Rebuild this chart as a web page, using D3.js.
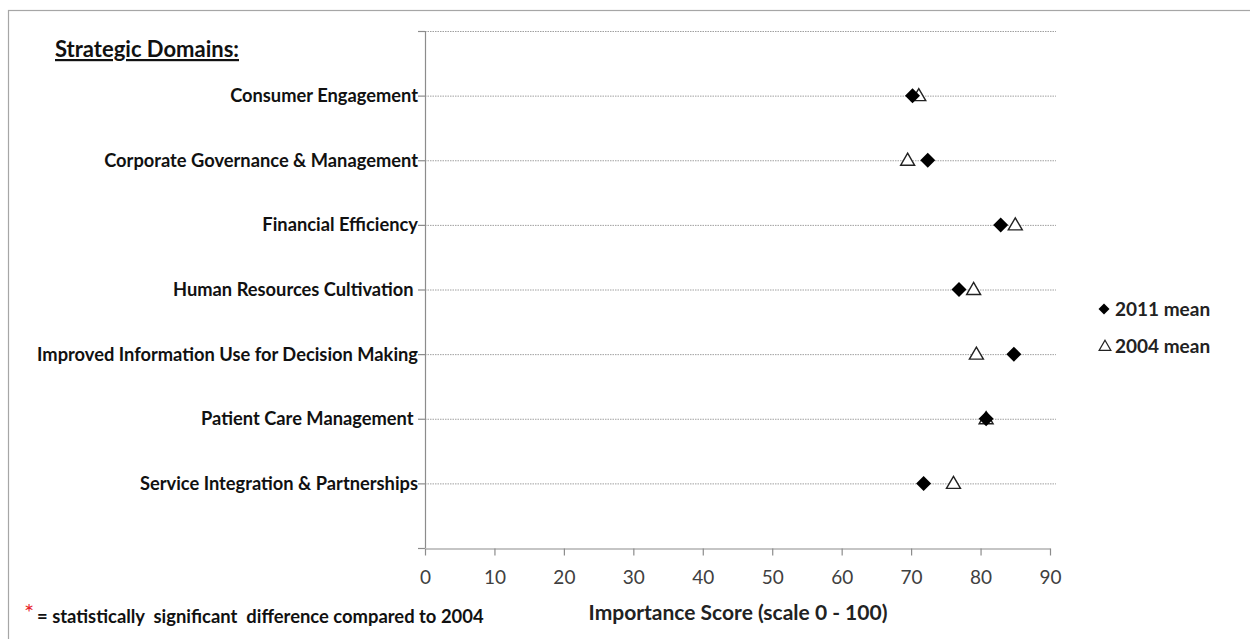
<!DOCTYPE html>
<html>
<head>
<meta charset="utf-8">
<script src="https://cdn.jsdelivr.net/npm/d3@7"></script>
<style>
  html, body { margin: 0; padding: 0; background: #fff; }
  svg { display: block; }
  text { font-family: Lato, "Open Sans", sans-serif; }
</style>
</head>
<body>
<script>
// Strategic domains, listed top to bottom
const domains = [
  "Consumer Engagement",
  "Corporate Governance & Management",
  "Financial Efficiency",
  "Human Resources Cultivation ",
  "Improved Information Use for Decision Making",
  "Patient Care Management ",
  "Service Integration & Partnerships"
];
// Mean importance scores
const mean2011 = [70.2, 72.4, 82.9, 76.9, 84.8, 80.8, 71.8];
const mean2004 = [71.1, 69.5, 85.0, 79.0, 79.4, 80.8, 76.1];
const xTicks = [0, 10, 20, 30, 40, 50, 60, 70, 80, 90];
const legendLabels = ["2011 mean", "2004 mean"];

const W = 1250, H = 639;
const svg = d3.select("body").append("svg").attr("width", W).attr("height", H);

// outer frame
svg.append("rect").attr("x", 8.5).attr("y", 10.5).attr("width", 1300).attr("height", 700)
  .attr("fill", "none").attr("stroke", "#a6a6a6").attr("stroke-width", 1.2);

const x = d3.scaleLinear().domain([0, 90]).range([425, 1050]);
// rows sit at integer positions 7..1, axis spans 0..8
const y = d3.scaleLinear().domain([0, 8]).range([548, 31]);
const rowPos = domains.map((d, i) => domains.length - i);

// square diamond marker (rotated square)
function diamondPath(r) {
  return `M0,${-r}L${r},0L0,${r}L${-r},0Z`;
}

// dotted gridlines
const g = svg.append("g");
g.selectAll("line.grid").data(d3.range(1, 9)).join("line")
  .attr("class", "grid")
  .attr("x1", x(0)).attr("x2", x(90) + 6)
  .attr("y1", d => y(d) + 0.5).attr("y2", d => y(d) + 0.5)
  .attr("stroke", "#a0a0a0").attr("stroke-width", 1).attr("stroke-dasharray", "1.5,1");

// y axis line with left ticks
g.append("line").attr("x1", x(0) + 0.5).attr("x2", x(0) + 0.5).attr("y1", y(8)).attr("y2", y(0))
  .attr("stroke", "#8c8c8c").attr("stroke-width", 1.2);
g.selectAll("line.ytick").data(d3.range(0, 9)).join("line")
  .attr("class", "ytick")
  .attr("x1", x(0) - 7).attr("x2", x(0))
  .attr("y1", d => y(d) + 0.5).attr("y2", d => y(d) + 0.5)
  .attr("stroke", "#8c8c8c").attr("stroke-width", 1.2);

// x axis
const xAxis = d3.axisBottom(x).tickValues(xTicks).tickSize(7).tickSizeOuter(0).tickPadding(15);
const xg = svg.append("g").attr("transform", `translate(0,${y(0) + 0.5})`).call(xAxis);
xg.select(".domain").attr("stroke", "#8c8c8c").attr("stroke-width", 1.2);
xg.selectAll(".tick line").attr("stroke", "#8c8c8c").attr("stroke-width", 1.2);
xg.selectAll(".tick text").attr("font-size", 19).attr("fill", "#404040")
  .attr("font-family", "Lato, 'Open Sans', sans-serif");

// category labels
svg.selectAll("text.cat").data(domains).join("text")
  .attr("class", "cat")
  .attr("x", x(0) - 7).attr("y", (d, i) => y(rowPos[i]))
  .attr("dy", "0.35em").attr("text-anchor", "end")
  .attr("font-size", 18.3).attr("font-weight", 700).attr("fill", "#111")
  .attr("xml:space", "preserve")
  .text(d => d);

// heading
svg.append("text").attr("x", 55).attr("y", 57)
  .attr("font-size", 22).attr("font-weight", 700).attr("fill", "#111")
  .attr("text-decoration", "underline")
  .text("Strategic Domains:");

// markers
const triangle = d3.symbol().type(d3.symbolTriangle).size(85);

svg.selectAll("path.t2004").data(mean2004).join("path")
  .attr("class", "t2004")
  .attr("transform", (d, i) => `translate(${x(d)},${y(rowPos[i]) + 1})`)
  .attr("d", triangle).attr("fill", "#fff").attr("stroke", "#222").attr("stroke-width", 1.4);

svg.selectAll("path.d2011").data(mean2011).join("path")
  .attr("class", "d2011")
  .attr("transform", (d, i) => `translate(${x(d)},${y(rowPos[i])})`)
  .attr("d", diamondPath(7.5)).attr("fill", "#000");

// legend
const lg = svg.append("g").attr("transform", "translate(1098,0)");
lg.append("path").attr("transform", "translate(6,309)")
  .attr("d", diamondPath(5.5)).attr("fill", "#000");
lg.append("path").attr("transform", "translate(7,347)")
  .attr("d", d3.symbol().type(d3.symbolTriangle).size(60)).attr("fill", "#fff")
  .attr("stroke", "#222").attr("stroke-width", 1.2);
lg.selectAll("text").data(legendLabels).join("text")
  .attr("x", 17).attr("y", (d, i) => 309 + i * 37).attr("dy", "0.35em")
  .attr("font-size", 19).attr("font-weight", 700).attr("fill", "#222")
  .text(d => d);

// axis title
svg.append("text").attr("x", 738).attr("y", 620).attr("text-anchor", "middle")
  .attr("font-size", 21).attr("font-weight", 700).attr("fill", "#222")
  .text("Importance Score (scale 0 - 100)");

// footnote
svg.append("text").attr("x", 24).attr("y", 621)
  .attr("font-size", 24).attr("fill", "#e8242c").text("*");
svg.append("text").attr("x", 37).attr("y", 623)
  .attr("font-size", 18.4).attr("font-weight", 700).attr("fill", "#111")
  .attr("xml:space", "preserve")
  .text("= statistically  significant  difference compared to 2004");
</script>
</body>
</html>
